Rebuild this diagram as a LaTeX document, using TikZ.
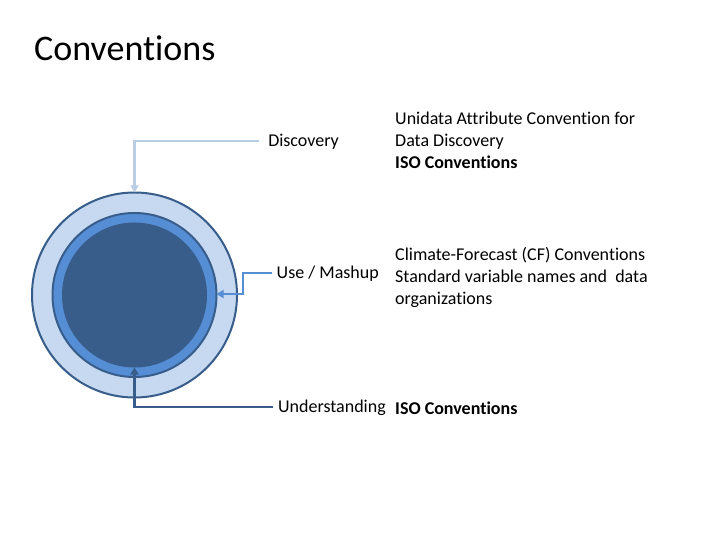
\documentclass[tikz,border=0pt]{standalone}
\usepackage{fontspec}
\setmainfont{Carlito}[Ligatures={NoCommon}]
\usetikzlibrary{arrows.meta}
\definecolor{light}{HTML}{C6D9F1}
\definecolor{lightline}{HTML}{B9CDE5}
\definecolor{mid}{HTML}{558ED5}
\definecolor{dark}{HTML}{385D8A}
\begin{document}
\begin{tikzpicture}[x=1pt,y=-1pt,
  lab/.style={font=\fontsize{18}{22}\selectfont,inner sep=0pt},
  conn/.style={line width=2.5pt,-{Triangle[length=7pt,width=8pt]}}]
\useasboundingbox (0,0) rectangle (720,540);
\node[anchor=west,font=\fontsize{36}{40}\selectfont,inner sep=0pt] (t) at (34,48) {Conventions};
\filldraw[fill=light,draw=dark,line width=2pt] (134.5,295) circle (102.5);
\filldraw[fill=mid,draw=dark,line width=2pt] (134.5,295) circle (82);
\fill[dark] (134.5,295) circle (72.5);
\node[lab,anchor=east] (d) at (339,142) {Discovery};
\node[lab,anchor=east] (u) at (379,274) {Use / Mashup};
\node[lab,anchor=east] (n) at (386,408) {Understanding};
\node[lab,anchor=north west,align=left] (d2) at (395,112) {Unidata Attribute Convention for\\Data Discovery\\\textbf{ISO Conventions}};
\node[lab,anchor=north west,align=left] (u2) at (395,247) {Climate-Forecast (CF) Conventions\\Standard variable names and\ \ data\\organizations};
\node[lab,anchor=west] (n2) at (395,408) {\textbf{ISO Conventions}};
\coordinate (dt) at (134.5,192.5);
\coordinate (ut) at (216.5,294);
\coordinate (nt) at (134.5,367.5);
\coordinate (ds) at (259,141);
\coordinate (us) at (272,273);
\coordinate (ns) at (273,407);
\draw[conn,lightline] (ds) -| (dt);
\draw[conn,mid] (us) -- (243,273) |- (ut);
\draw[conn,dark] (ns) -| (nt);
\end{tikzpicture}
\end{document}
